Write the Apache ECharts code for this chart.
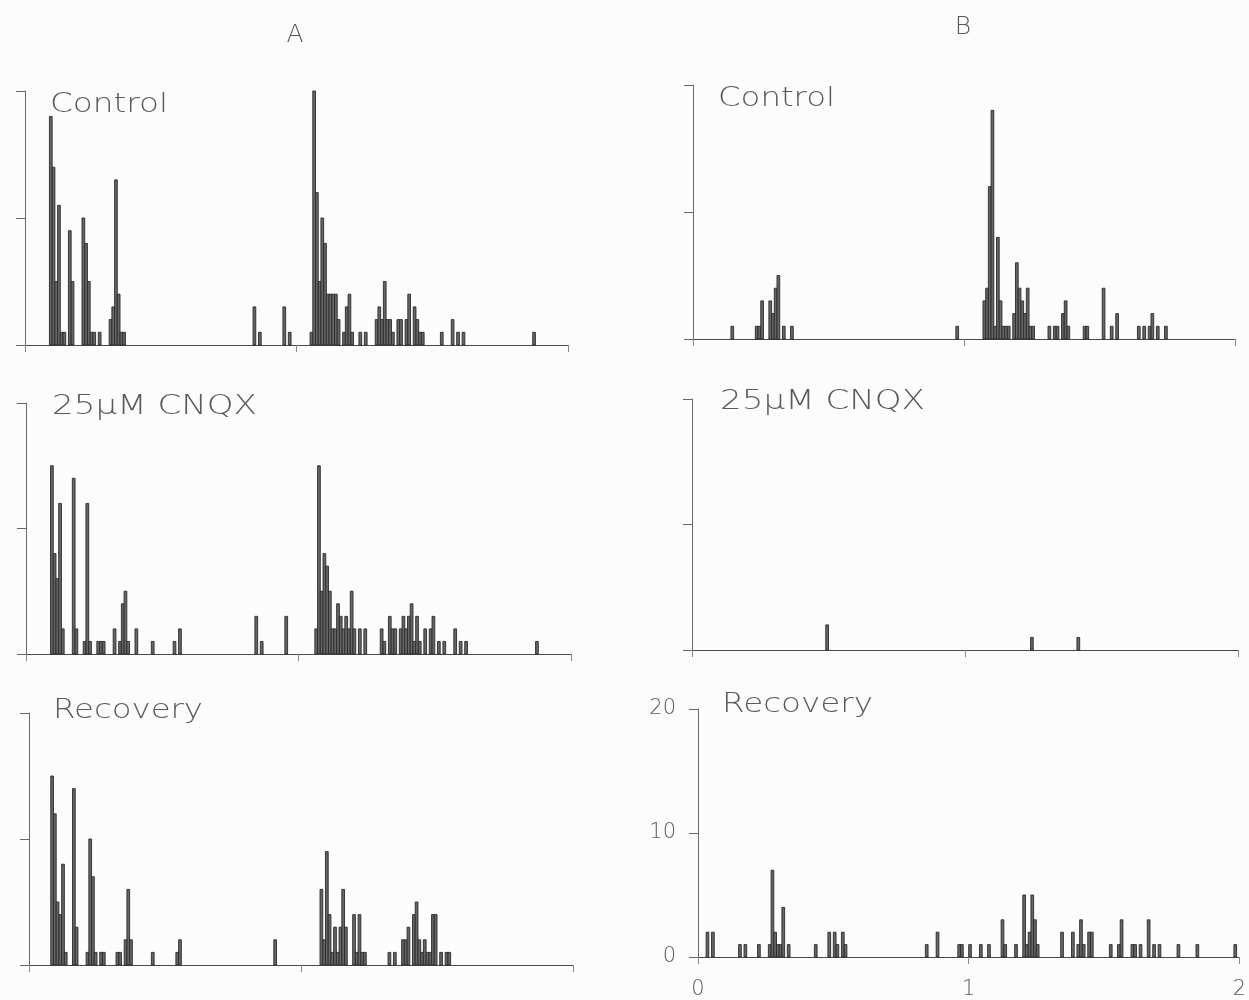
<!DOCTYPE html>
<html>
<head>
<meta charset="utf-8">
<script src="https://cdn.jsdelivr.net/npm/echarts@6/dist/echarts.min.js"></script>
<style>
  html, body { margin: 0; padding: 0; background: #fcfcfc; }
  #chart { width: 1249px; height: 1000px; }
</style>
</head>
<body>
<div id="chart"></div>
<script>
// Peri-stimulus time histograms: [bin start (s), spike count], bin width 10 ms.
const BIN = 0.01;

const xTicks = [0, 1, 2];
const yTicks = [0, 10, 20];

const controlA = [
  [0.09,18],[0.10,14],[0.11,5],[0.12,11],[0.13,1],[0.14,1],[0.16,9],[0.17,5],
  [0.21,10],[0.22,8],[0.23,5],[0.24,1],[0.25,1],[0.27,1],
  [0.31,2],[0.32,3],[0.33,13],[0.34,4],[0.35,1],[0.36,1],
  [0.84,3],[0.86,1],[0.95,3],[0.97,1],
  [1.05,1],[1.06,20],[1.07,12],[1.08,5],[1.09,10],[1.10,8],[1.11,4],[1.12,4],[1.13,4],[1.14,4],[1.15,2],
  [1.17,1],[1.18,3],[1.19,4],[1.20,1],[1.23,1],[1.25,1],
  [1.29,2],[1.30,3],[1.31,2],[1.32,5],[1.33,2],[1.34,2],[1.35,1],
  [1.37,2],[1.38,2],[1.40,2],[1.41,4],[1.43,3],[1.44,2],[1.45,1],[1.46,1],
  [1.53,1],[1.57,2],[1.59,1],[1.61,1],[1.87,1]
];

const cnqxA = [
  [0.09,15],[0.10,8],[0.11,6],[0.12,12],[0.13,2],[0.17,14],[0.18,2],
  [0.21,1],[0.22,12],[0.23,1],[0.26,1],[0.27,1],[0.28,1],
  [0.32,2],[0.34,1],[0.35,4],[0.36,5],[0.37,1],[0.40,2],[0.46,1],[0.54,1],[0.56,2],
  [0.84,3],[0.86,1],[0.95,3],
  [1.06,2],[1.07,15],[1.08,5],[1.09,8],[1.10,7],[1.11,5],[1.12,2],[1.13,2],[1.14,4],[1.15,3],
  [1.16,2],[1.17,3],[1.18,2],[1.19,5],[1.20,2],[1.22,2],[1.24,2],
  [1.30,2],[1.31,1],[1.33,3],[1.34,2],[1.35,2],[1.37,2],[1.38,3],[1.39,2],[1.40,3],
  [1.41,4],[1.42,1],[1.43,3],[1.44,1],[1.46,2],[1.48,2],[1.49,3],[1.51,1],[1.53,1],
  [1.57,2],[1.59,1],[1.61,1],[1.87,1]
];

const recoveryA = [
  [0.08,15],[0.09,12],[0.10,5],[0.11,4],[0.12,8],[0.13,1],[0.16,14],[0.17,3],
  [0.21,1],[0.22,10],[0.23,7],[0.24,1],[0.26,1],[0.27,1],
  [0.32,1],[0.33,1],[0.35,2],[0.36,6],[0.37,2],[0.45,1],[0.54,1],[0.55,2],[0.90,2],
  [1.07,6],[1.08,2],[1.09,9],[1.10,4],[1.11,1],[1.12,3],[1.13,1],[1.14,3],[1.15,6],[1.16,3],
  [1.19,4],[1.20,1],[1.21,4],[1.22,1],[1.23,1],
  [1.32,1],[1.34,1],[1.37,2],[1.38,2],[1.39,3],[1.41,4],[1.42,5],[1.43,2],[1.44,1],
  [1.45,2],[1.46,1],[1.47,1],[1.48,4],[1.49,4],[1.51,1],[1.53,1],[1.54,1]
];

const controlB = [
  [0.14,1],[0.23,1],[0.24,1],[0.25,3],[0.28,3],[0.29,2],[0.30,4],[0.31,5],[0.33,1],[0.36,1],[0.97,1],
  [1.07,3],[1.08,4],[1.09,12],[1.10,18],[1.11,1],[1.12,8],[1.13,3],[1.14,1],[1.15,1],[1.16,1],
  [1.18,2],[1.19,6],[1.20,4],[1.21,3],[1.22,2],[1.23,4],[1.24,1],[1.25,1],
  [1.31,1],[1.33,1],[1.34,1],[1.36,2],[1.37,3],[1.38,1],[1.44,1],[1.45,1],
  [1.51,4],[1.54,1],[1.56,2],[1.64,1],[1.66,1],[1.68,1],[1.69,2],[1.71,1],[1.74,1]
];

const cnqxB = [
  [0.49,2],[1.24,1],[1.41,1]
];

const recoveryB = [
  [0.03,2],[0.05,2],[0.15,1],[0.17,1],[0.22,1],[0.26,1],[0.27,7],[0.28,2],[0.29,1],[0.30,1],
  [0.31,4],[0.33,1],[0.43,1],[0.48,2],[0.50,2],[0.51,1],[0.53,2],[0.54,1],[0.84,1],[0.88,2],
  [0.96,1],[0.97,1],[1.00,1],[1.04,1],[1.07,1],[1.12,3],[1.13,1],[1.17,1],
  [1.20,5],[1.21,1],[1.22,2],[1.23,5],[1.24,3],[1.25,1],[1.34,2],[1.38,2],
  [1.40,1],[1.41,3],[1.42,1],[1.44,2],[1.45,2],[1.52,1],[1.55,1],[1.56,3],
  [1.60,1],[1.61,1],[1.63,1],[1.66,3],[1.68,1],[1.70,1],[1.77,1],[1.84,1],[1.98,1]
];

// Panel layout: plot boxes and condition labels
const panels = [
  { data: controlA,  box: { left: 25,  top: 91,  width: 543, height: 254 }, name: 'Control',   lx: 50,  ly: 105, lw: 118 },
  { data: cnqxA,     box: { left: 26,  top: 403, width: 545, height: 251 }, name: '25μM CNQX', lx: 52,  ly: 407, lw: 205 },
  { data: recoveryA, box: { left: 29,  top: 713, width: 544, height: 252 }, name: 'Recovery',  lx: 53,  ly: 711, lw: 150 },
  { data: controlB,  box: { left: 693, top: 85,  width: 542, height: 254 }, name: 'Control',   lx: 718, ly: 99,  lw: 117 },
  { data: cnqxB,     box: { left: 692, top: 399, width: 546, height: 251 }, name: '25μM CNQX', lx: 720, ly: 402, lw: 205 },
  { data: recoveryB, box: { left: 698, top: 709, width: 543, height: 253 }, name: 'Recovery',  lx: 722, ly: 705, lw: 151, labelled: true }
];

const FONT_FAMILY = '"DejaVu Sans", "Liberation Sans", sans-serif';
const LABEL_SIZE = 27;
const INK = '#5a5a5a';

const measureCtx = document.createElement('canvas').getContext('2d');
function widthOf(text, size, weight) {
  measureCtx.font = weight + ' ' + size + 'px ' + FONT_FAMILY;
  return measureCtx.measureText(text).width;
}

const grids = [], xAxes = [], yAxes = [], series = [], graphics = [];

panels.forEach((p, i) => {
  grids.push(Object.assign({ containLabel: false }, p.box));

  xAxes.push({
    gridIndex: i, type: 'value', min: xTicks[0], max: xTicks[xTicks.length - 1], interval: 1,
    axisLine: { show: true, lineStyle: { color: '#4a4a4a', width: 1 } },
    axisTick: { show: true, length: 7, lineStyle: { color: '#888', width: 1 } },
    axisLabel: { show: !!p.labelled, margin: 22, fontSize: 21, color: INK, fontFamily: FONT_FAMILY, fontWeight: 200 },
    splitLine: { show: false }
  });

  yAxes.push({
    gridIndex: i, type: 'value', min: yTicks[0], max: yTicks[yTicks.length - 1], interval: 10,
    axisLine: { show: true, lineStyle: { color: '#6a6a6a', width: 1 } },
    axisTick: { show: true, length: 9, lineStyle: { color: '#666', width: 1 } },
    axisLabel: { show: !!p.labelled, margin: 22, fontSize: 21, color: INK, fontFamily: FONT_FAMILY, fontWeight: 200 },
    splitLine: { show: false }
  });

  series.push({
    type: 'custom', xAxisIndex: i, yAxisIndex: i, clip: false,
    data: p.data,
    renderItem: function (params, api) {
      const t = api.value(0), n = api.value(1);
      const base = api.coord([t, 0]);
      const top = api.coord([t + BIN, n]);
      return {
        type: 'rect',
        shape: { x: base[0], y: top[1], width: top[0] - base[0], height: base[1] - top[1] },
        style: { fill: '#666', stroke: '#2a2a2a', lineWidth: 0.9 }
      };
    }
  });

  const natural = widthOf(p.name, LABEL_SIZE, 200);
  graphics.push({
    type: 'text', x: p.lx, y: p.ly, scaleX: p.lw / natural, scaleY: 1,
    style: {
      text: p.name, fontSize: LABEL_SIZE, fontFamily: FONT_FAMILY, fontWeight: 200,
      fill: INK, verticalAlign: 'middle', align: 'left'
    }
  });
});

graphics.push(
  { type: 'text', x: 295, y: 35, style: { text: 'A', fontSize: 25, fontFamily: FONT_FAMILY, fontWeight: 200, fill: INK, align: 'center', verticalAlign: 'middle' } },
  { type: 'text', x: 963, y: 27, style: { text: 'B', fontSize: 25, fontFamily: FONT_FAMILY, fontWeight: 200, fill: INK, align: 'center', verticalAlign: 'middle' } }
);

const chart = echarts.init(document.getElementById('chart'), null, { renderer: 'canvas' });
chart.setOption({
  backgroundColor: '#fcfcfc',
  animation: false,
  grid: grids,
  xAxis: xAxes,
  yAxis: yAxes,
  series: series,
  graphic: graphics
});
</script>
</body>
</html>
